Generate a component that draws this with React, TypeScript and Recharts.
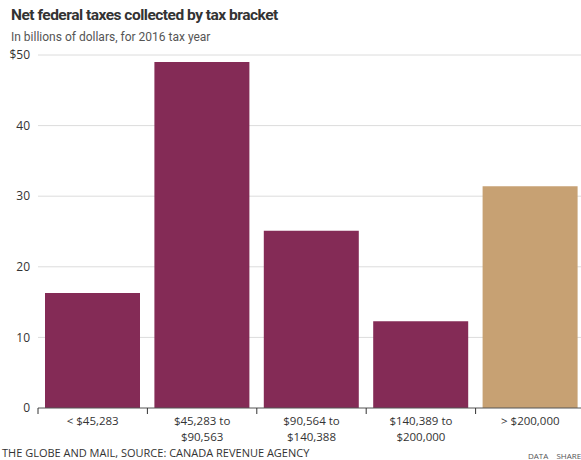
import React from "react";
import { BarChart, Bar, XAxis, YAxis, CartesianGrid, Cell } from "recharts";

const categories = ["< $45,283", "$45,283 to|$90,563", "$90,564 to|$140,388", "$140,389 to|$200,000", "> $200,000"];
const values = [16.3, 49.0, 25.1, 12.3, 31.4];
const highlight = [false, false, false, false, true];
const yTicks = [0, 10, 20, 30, 40, 50];

const data = categories.map((c, i) => ({ name: c, value: values[i], hi: highlight[i] }));

const MAROON = "#842b56";
const TAN = "#c7a173";
const FONT = "'Open Sans', 'DejaVu Sans', sans-serif";
const TITLE_FONT = "Roboto, 'Open Sans', sans-serif";

const CHART_W = 590;
const MARGIN_L = 0;
const MARGIN_R = 5;
const Y_W = 38;
const PLOT_W = CHART_W - MARGIN_L - MARGIN_R - Y_W;
const BAND = PLOT_W / categories.length;

const XTick = (props: any) => {
  const { x, y, payload } = props;
  const lines = String(payload.value).split("|");
  return (
    <g>
      <line x1={x - BAND / 2} x2={x - BAND / 2} y1={y - 8} y2={y - 2} stroke="#333" strokeWidth={1} />
      {lines.map((l, i) => (
        <text key={i} x={x} y={y + 9 + i * 16} textAnchor="middle" fill="#333" fontSize={11.5} fontFamily={FONT}>
          {l}
        </text>
      ))}
    </g>
  );
};

export default function App() {
  return (
    <div style={{ position: "absolute", left: 0, top: 0, width: 581, height: 460, overflow: "hidden", background: "#fff", fontFamily: FONT }}>
      <div style={{ position: "absolute", left: 11, top: 6, fontSize: 15.5, fontWeight: 700, color: "#333", whiteSpace: "nowrap", letterSpacing: -0.5, fontFamily: TITLE_FONT }}>
        Net federal taxes collected by tax bracket
      </div>
      <div style={{ position: "absolute", left: 11, top: 30, fontSize: 12, color: "#555", whiteSpace: "nowrap", fontFamily: TITLE_FONT }}>
        In billions of dollars, for 2016 tax year
      </div>
      <div style={{ position: "absolute", left: 0, top: 0 }}>
        <BarChart
          width={CHART_W}
          height={460}
          data={data}
          margin={{ top: 55, right: MARGIN_R, bottom: 0, left: MARGIN_L }}
          barCategoryGap={7}
        >
          <CartesianGrid vertical={false} stroke="#dcdcdc" horizontalValues={[10, 20, 30, 40, 50]} />
          <YAxis
            width={Y_W}
            domain={[0, 50]}
            ticks={yTicks}
            interval={0}
            axisLine={false}
            tickLine={false}
            tick={{ fill: "#333", fontSize: 12, fontFamily: FONT }}
            tickFormatter={(v: number) => (v === 50 ? "$50" : String(v))}
          />
          <XAxis
            dataKey="name"
            height={52}
            interval={0}
            axisLine={{ stroke: "#555" }}
            tickLine={false}
            tick={<XTick />}
          />
          <Bar dataKey="value" isAnimationActive={false}>
            {data.map((d, i) => (
              <Cell key={i} fill={d.hi ? TAN : MAROON} />
            ))}
          </Bar>
        </BarChart>
      </div>
      <div style={{ position: "absolute", left: 2, top: 445, fontSize: 11, color: "#333", whiteSpace: "nowrap" }}>
        THE GLOBE AND MAIL, SOURCE: CANADA REVENUE AGENCY
      </div>
      <div style={{ position: "absolute", left: 528, top: 450, fontSize: 8, color: "#555", whiteSpace: "nowrap", wordSpacing: 6 }}>
        DATA SHARE
      </div>
    </div>
  );
}
